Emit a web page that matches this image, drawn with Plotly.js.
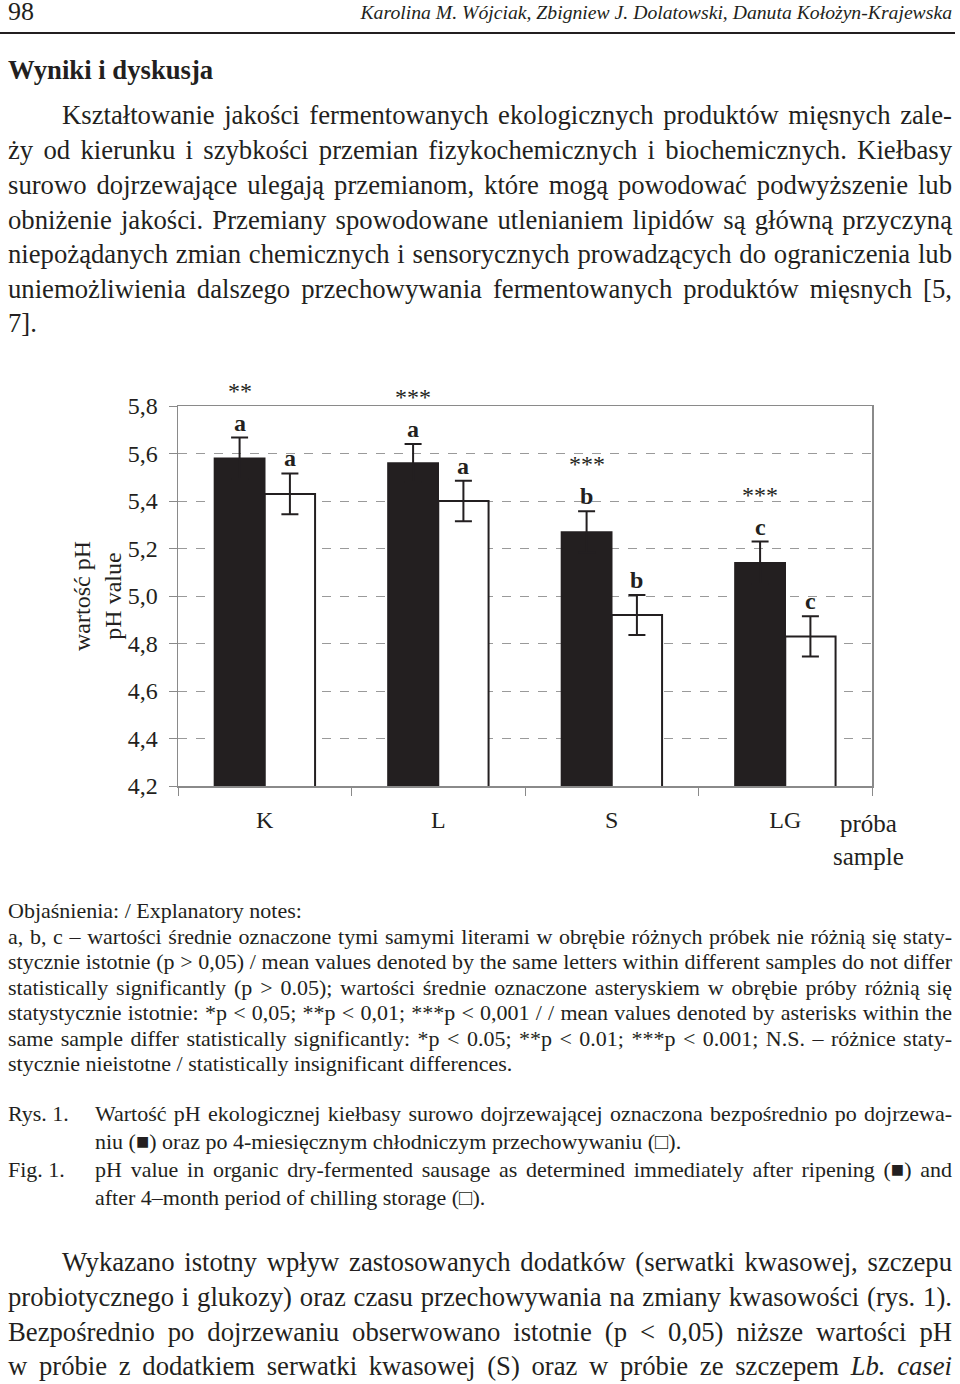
<!DOCTYPE html>
<html>
<head>
<meta charset="utf-8">
<script src="https://cdn.plot.ly/plotly-3.0.1.min.js"></script>
<style>
  html, body { margin:0; padding:0; background:#fff; }
  body { width:960px; height:1384px; position:relative; overflow:hidden; font-family:'Liberation Serif','Times New Roman',serif; color:#231f20; }
  .ln { position:absolute; white-space:nowrap; line-height:1.2; }
  #chart { position:absolute; left:0; top:360px; width:960px; height:520px; }
  #rule { position:absolute; left:0; top:32px; width:955px; height:2px; background:#231f20; }
</style>
</head>
<body>
<div id="rule"></div>
<div id="chart"></div>
<script>
// ---------------- chart data ----------------
const samples = ['K', 'L', 'S', 'LG'];
const phAfterRipening = [5.58, 5.56, 5.27, 5.14];
const errAfterRipening = [0.087, 0.080, 0.087, 0.089];
const phAfterStorage = [5.43, 5.40, 4.92, 4.83];
const errAfterStorage = [0.086, 0.085, 0.084, 0.085];
const lettersRipening = ['a', 'a', 'b', 'c'];
const lettersStorage = ['a', 'a', 'b', 'c'];
const starsPerSample = ['**', '***', '***', '***'];
const yTickVals = [4.2, 4.4, 4.6, 4.8, 5.0, 5.2, 5.4, 5.6, 5.8];
const yTickText = ['4,2', '4,4', '4,6', '4,8', '5,0', '5,2', '5,4', '5,6', '5,8'];

// ---------------- page text ----------------
const S = 26.7, N = 22;
const textLines = [
  {t:'98', x0:8, y:13, s:26, a:'left'},
  {t:'Karolina M. Wójciak, Zbigniew J. Dolatowski, Danuta Kołożyn-Krajewska', x1:952, y:14, s:19.7, a:'right', st:'italic'},
  {t:'Wyniki i dyskusja', x0:8, y:71, s:26.7, a:'left', w:'bold'},
  {t:'Kształtowanie jakości fermentowanych ekologicznych produktów mięsnych zale-', x0:62, x1:952, y:116, s:S, a:'j'},
  {t:'ży od kierunku i szybkości przemian fizykochemicznych i biochemicznych. Kiełbasy', x0:8, x1:952, y:151, s:S, a:'j'},
  {t:'surowo dojrzewające ulegają przemianom, które mogą powodować podwyższenie lub', x0:8, x1:952, y:186, s:S, a:'j'},
  {t:'obniżenie jakości. Przemiany spowodowane utlenianiem lipidów są główną przyczyną', x0:8, x1:952, y:221, s:S, a:'j'},
  {t:'niepożądanych zmian chemicznych i sensorycznych prowadzących do ograniczenia lub', x0:8, x1:952, y:255, s:S, a:'j'},
  {t:'uniemożliwienia dalszego przechowywania fermentowanych produktów mięsnych [5,', x0:8, x1:952, y:290, s:S, a:'j'},
  {t:'7].', x0:8, y:324, s:S, a:'left'},
  {t:'Objaśnienia: / Explanatory notes:', x0:8, y:912, s:N, a:'left'},
  {t:'a, b, c – wartości średnie oznaczone tymi samymi literami w obrębie różnych próbek nie różnią się staty-', x0:8, x1:952, y:938, s:N, a:'j'},
  {t:'stycznie istotnie (p > 0,05) / mean values denoted by the same letters within different samples do not differ', x0:8, x1:952, y:963.5, s:N, a:'j'},
  {t:'statistically significantly (p > 0.05); wartości średnie oznaczone asteryskiem w obrębie próby różnią się', x0:8, x1:952, y:989, s:N, a:'j'},
  {t:'statystycznie istotnie: *p < 0,05; **p < 0,01; ***p < 0,001 / / mean values denoted by asterisks within the', x0:8, x1:952, y:1014.5, s:N, a:'j'},
  {t:'same sample differ statistically significantly: *p < 0.05; **p < 0.01; ***p < 0.001; N.S. – różnice staty-', x0:8, x1:952, y:1040, s:N, a:'j'},
  {t:'stycznie nieistotne / statistically insignificant differences.', x0:8, y:1065, s:N, a:'left'},
  {t:'Rys. 1.', x0:8, y:1115, s:N, a:'left'},
  {t:'Wartość pH ekologicznej kiełbasy surowo dojrzewającej oznaczona bezpośrednio po dojrzewa-', x0:95, x1:952, y:1115, s:N, a:'j'},
  {t:'niu (■) oraz po 4-miesięcznym chłodniczym przechowywaniu (□).', x0:95, y:1143, s:N, a:'left'},
  {t:'Fig. 1.', x0:8, y:1171, s:N, a:'left'},
  {t:'pH value in organic dry-fermented sausage as determined immediately after ripening (■) and', x0:95, x1:952, y:1171, s:N, a:'j'},
  {t:'after 4–month period of chilling storage (□).', x0:95, y:1199, s:N, a:'left'},
  {t:'Wykazano istotny wpływ zastosowanych dodatków (serwatki kwasowej, szczepu', x0:62, x1:952, y:1263, s:S, a:'j'},
  {t:'probiotycznego i glukozy) oraz czasu przechowywania na zmiany kwasowości (rys. 1).', x0:8, x1:952, y:1298, s:S, a:'j'},
  {t:'Bezpośrednio po dojrzewaniu obserwowano istotnie (p < 0,05) niższe wartości pH', x0:8, x1:952, y:1333, s:S, a:'j'},
  {t:'w próbie z dodatkiem serwatki kwasowej (S) oraz w próbie ze szczepem <i>Lb. casei</i>', x0:8, x1:952, y:1367, s:S, a:'j', html:true}
];

function placeText() {
  textLines.forEach(L => {
    const d = document.createElement('div');
    d.className = 'ln';
    if (L.html) d.innerHTML = L.t; else d.textContent = L.t;
    d.style.fontSize = L.s + 'px';
    if (L.w) d.style.fontWeight = L.w;
    if (L.st) d.style.fontStyle = L.st;
    d.style.top = (L.y - 0.64 * L.s) + 'px';
    document.body.appendChild(d);
    const w = d.getBoundingClientRect().width;
    if (L.a === 'right') {
      d.style.left = (L.x1 - w) + 'px';
    } else {
      d.style.left = L.x0 + 'px';
      if (L.a === 'j') {
        const n = (d.textContent.match(/ /g) || []).length;
        if (n > 0) d.style.wordSpacing = ((L.x1 - L.x0 - w) / n) + 'px';
      }
    }
  });
}

// ---------------- chart ----------------
const ink = '#231f20';
const axisGray = '#8a8a8a';
const xIdx = samples.map((_, i) => i);
const halfOffset = 0.145;

const traces = [
  {
    type: 'bar', name: 'po dojrzewaniu', x: samples, y: phAfterRipening,
    marker: {color: ink, line: {color: ink, width: 1.5}},
    error_y: {type: 'data', array: errAfterRipening, visible: true, color: ink, thickness: 2, width: 8.5},
    hoverinfo: 'none'
  },
  {
    type: 'bar', name: 'po przechowywaniu', x: samples, y: phAfterStorage,
    marker: {color: '#ffffff', line: {color: ink, width: 2}},
    error_y: {type: 'data', array: errAfterStorage, visible: true, color: ink, thickness: 2, width: 8.5},
    hoverinfo: 'none'
  }
];

const annotations = [];
xIdx.forEach(i => {
  annotations.push({x: i - halfOffset, y: phAfterRipening[i] + errAfterRipening[i], xref: 'x', yref: 'y',
    text: lettersRipening[i], showarrow: false, yanchor: 'bottom', yshift: 0,
    font: {family: 'Liberation Serif', size: 24, color: ink, weight: 'bold'}});
  annotations.push({x: i + halfOffset, y: phAfterStorage[i] + errAfterStorage[i], xref: 'x', yref: 'y',
    text: lettersStorage[i], showarrow: false, yanchor: 'bottom', yshift: 0,
    font: {family: 'Liberation Serif', size: 24, color: ink, weight: 'bold'}});
  annotations.push({x: i - halfOffset, y: phAfterRipening[i] + errAfterRipening[i], xref: 'x', yref: 'y',
    text: starsPerSample[i], showarrow: false, yanchor: 'bottom', yshift: 32,
    font: {family: 'Liberation Serif', size: 24, color: ink}});
});
annotations.push({xref: 'paper', yref: 'paper', x: 0, y: 0.5, xshift: -81, xanchor: 'center', yanchor: 'middle',
  showarrow: false, text: 'wartość pH<br>pH value', textangle: -90,
  font: {family: 'Liberation Serif', size: 24, color: ink}});
annotations.push({xref: 'paper', yref: 'paper', x: 1, y: 0, xshift: -4, yshift: -22, xanchor: 'center', yanchor: 'top',
  showarrow: false, text: 'próba<br>sample', align: 'center',
  font: {family: 'Liberation Serif', size: 25, color: ink}});

const layout = {
  width: 960, height: 520,
  margin: {l: 178, r: 88, t: 46, b: 94},
  paper_bgcolor: 'rgba(0,0,0,0)', plot_bgcolor: '#ffffff',
  showlegend: false,
  barmode: 'group', bargap: 0.42, bargroupgap: 0,
  font: {family: 'Liberation Serif', color: ink},
  xaxis: {
    type: 'category', showline: true, linecolor: axisGray, linewidth: 1.5, mirror: true,
    ticks: 'outside', tickson: 'boundaries', ticklen: 8, tickcolor: axisGray, tickwidth: 1,
    tickfont: {family: 'Liberation Serif', size: 24, color: ink}, ticklabelstandoff: 12,
    showgrid: false, fixedrange: true
  },
  yaxis: {
    range: [4.2, 5.8], tickvals: yTickVals, ticktext: yTickText,
    showline: true, linecolor: axisGray, linewidth: 1.5, mirror: true,
    ticks: 'outside', ticklen: 8, tickcolor: axisGray, tickwidth: 1,
    showgrid: true, gridcolor: '#9a9a9a', griddash: 'dash', gridwidth: 1,
    zeroline: false, tickfont: {family: 'Liberation Serif', size: 24, color: ink},
    ticklabelstandoff: 6, fixedrange: true
  },
  annotations: annotations
};

Plotly.newPlot('chart', traces, layout, {staticPlot: true, displayModeBar: false});

if (document.fonts && document.fonts.ready) {
  document.fonts.ready.then(placeText);
} else {
  placeText();
}
</script>
</body>
</html>
